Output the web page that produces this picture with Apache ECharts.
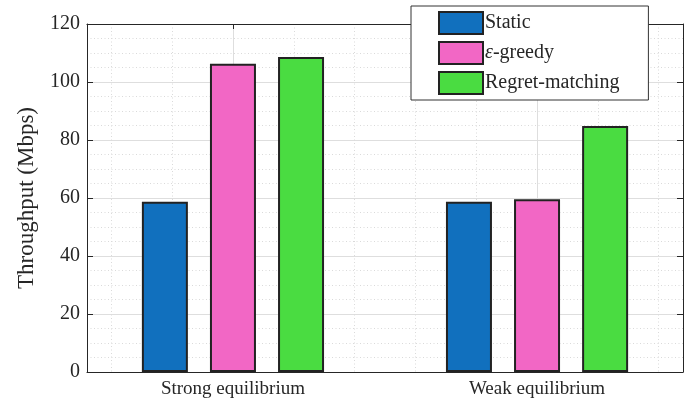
<!DOCTYPE html>
<html>
<head>
<meta charset="utf-8">
<script src="https://cdn.jsdelivr.net/npm/echarts@6/dist/echarts.min.js"></script>
<style>html,body{margin:0;padding:0;background:#fff;}#c{width:699px;height:410px;}</style>
</head>
<body>
<div id="c"></div>
<script>
// ---- data ----
const categories = ['Strong equilibrium', 'Weak equilibrium'];
const categoryPos = [1, 2];
const seriesNames = ['Static', 'ε-greedy', 'Regret-matching'];
const staticVals = [58.7, 58.7];
const greedyVals = [106.3, 59.6];
const regretVals = [108.6, 84.8];
const yTicks = [0, 20, 40, 60, 80, 100, 120];

const FONT = 'Liberation Serif';
const TXT = '#262626';
const AXC = '#262626';
const colors = ['#1170BE', '#F267C5', '#4ADC41'];

function pairs(vals) { return vals.map((v, i) => [categoryPos[i], v]); }

const chart = echarts.init(document.getElementById('c'));
const xMin = 0.52, xMax = 2.48;
const commonX = {
  type: 'value', min: xMin, max: xMax, splitNumber: 2, minInterval: 1, maxInterval: 1
};
const commonY = {
  type: 'value', min: yTicks[0], max: yTicks[yTicks.length - 1], interval: 20
};
const barStyle = (i) => ({ color: colors[i], borderColor: '#222', borderWidth: 2 });
const vals = [staticVals, greedyVals, regretVals];

chart.setOption({
  animation: false,
  backgroundColor: '#fff',
  grid: { left: 87, right: 16, top: 24, bottom: 38, containLabel: false },
  xAxis: [
    Object.assign({}, commonX, {
      position: 'bottom',
      axisLine: { show: true, lineStyle: { color: AXC, width: 1 } },
      axisTick: { show: true, inside: true, length: 5, lineStyle: { color: AXC } },
      axisLabel: {
        show: true, margin: 8, color: TXT, fontFamily: FONT, fontSize: 19,
        formatter: (v) => { const k = categoryPos.indexOf(Math.round(v * 100) / 100); return k >= 0 ? categories[k] : ''; }
      },
      splitLine: { show: true, lineStyle: { color: '#dedede', width: 1 } },
      minorTick: { show: false, splitNumber: 5 },
      minorSplitLine: { show: true, lineStyle: { color: '#dadada', width: 1, type: [1, 2.5] } }
    }),
    Object.assign({}, commonX, {
      position: 'top',
      axisLine: { show: true, onZero: false, lineStyle: { color: AXC, width: 1.2 } },
      axisTick: { show: true, inside: true, length: 5, lineStyle: { color: AXC } },
      axisLabel: { show: false },
      splitLine: { show: false }
    })
  ],
  yAxis: [
    Object.assign({}, commonY, {
      position: 'left',
      name: 'Throughput (Mbps)', nameLocation: 'middle', nameGap: 49, nameRotate: 90,
      nameTextStyle: { color: TXT, fontFamily: FONT, fontSize: 23 },
      axisLine: { show: true, lineStyle: { color: AXC, width: 1 } },
      axisTick: { show: true, inside: true, length: 6, lineStyle: { color: AXC } },
      axisLabel: { show: true, margin: 7, color: TXT, fontFamily: FONT, fontSize: 20 },
      splitLine: { show: true, lineStyle: { color: '#dedede', width: 1 } },
      minorTick: { show: false, splitNumber: 4 },
      minorSplitLine: { show: true, lineStyle: { color: '#dadada', width: 1, type: [1, 2.5] } }
    }),
    Object.assign({}, commonY, {
      position: 'right',
      axisLine: { show: true, onZero: false, lineStyle: { color: AXC, width: 1 } },
      axisTick: { show: true, inside: true, length: 6, lineStyle: { color: AXC } },
      axisLabel: { show: false },
      splitLine: { show: false }
    })
  ],
  legend: {
    orient: 'vertical', left: 411, top: 6,
    padding: [5, 29, 5, 27], itemGap: 6, itemWidth: 44, itemHeight: 22,
    backgroundColor: '#fff', borderColor: '#333', borderWidth: 1, borderRadius: 0,
    icon: 'rect',
    data: seriesNames,
    formatter: (n) => n === 'ε-greedy' ? '{it|ε}-greedy' : n,
    textStyle: {
      color: TXT, fontFamily: FONT, fontSize: 20, lineHeight: 22, padding: [0, 0, 0, -3],
      rich: { it: { fontStyle: 'italic', fontFamily: FONT, fontSize: 20, lineHeight: 22, color: TXT } }
    }
  },
  series: seriesNames.map((n, i) => ({
    name: n, type: 'bar', xAxisIndex: 0, yAxisIndex: 0,
    barWidth: 46, barGap: '48%',
    itemStyle: barStyle(i),
    data: pairs(vals[i])
  }))
});
</script>
</body>
</html>
